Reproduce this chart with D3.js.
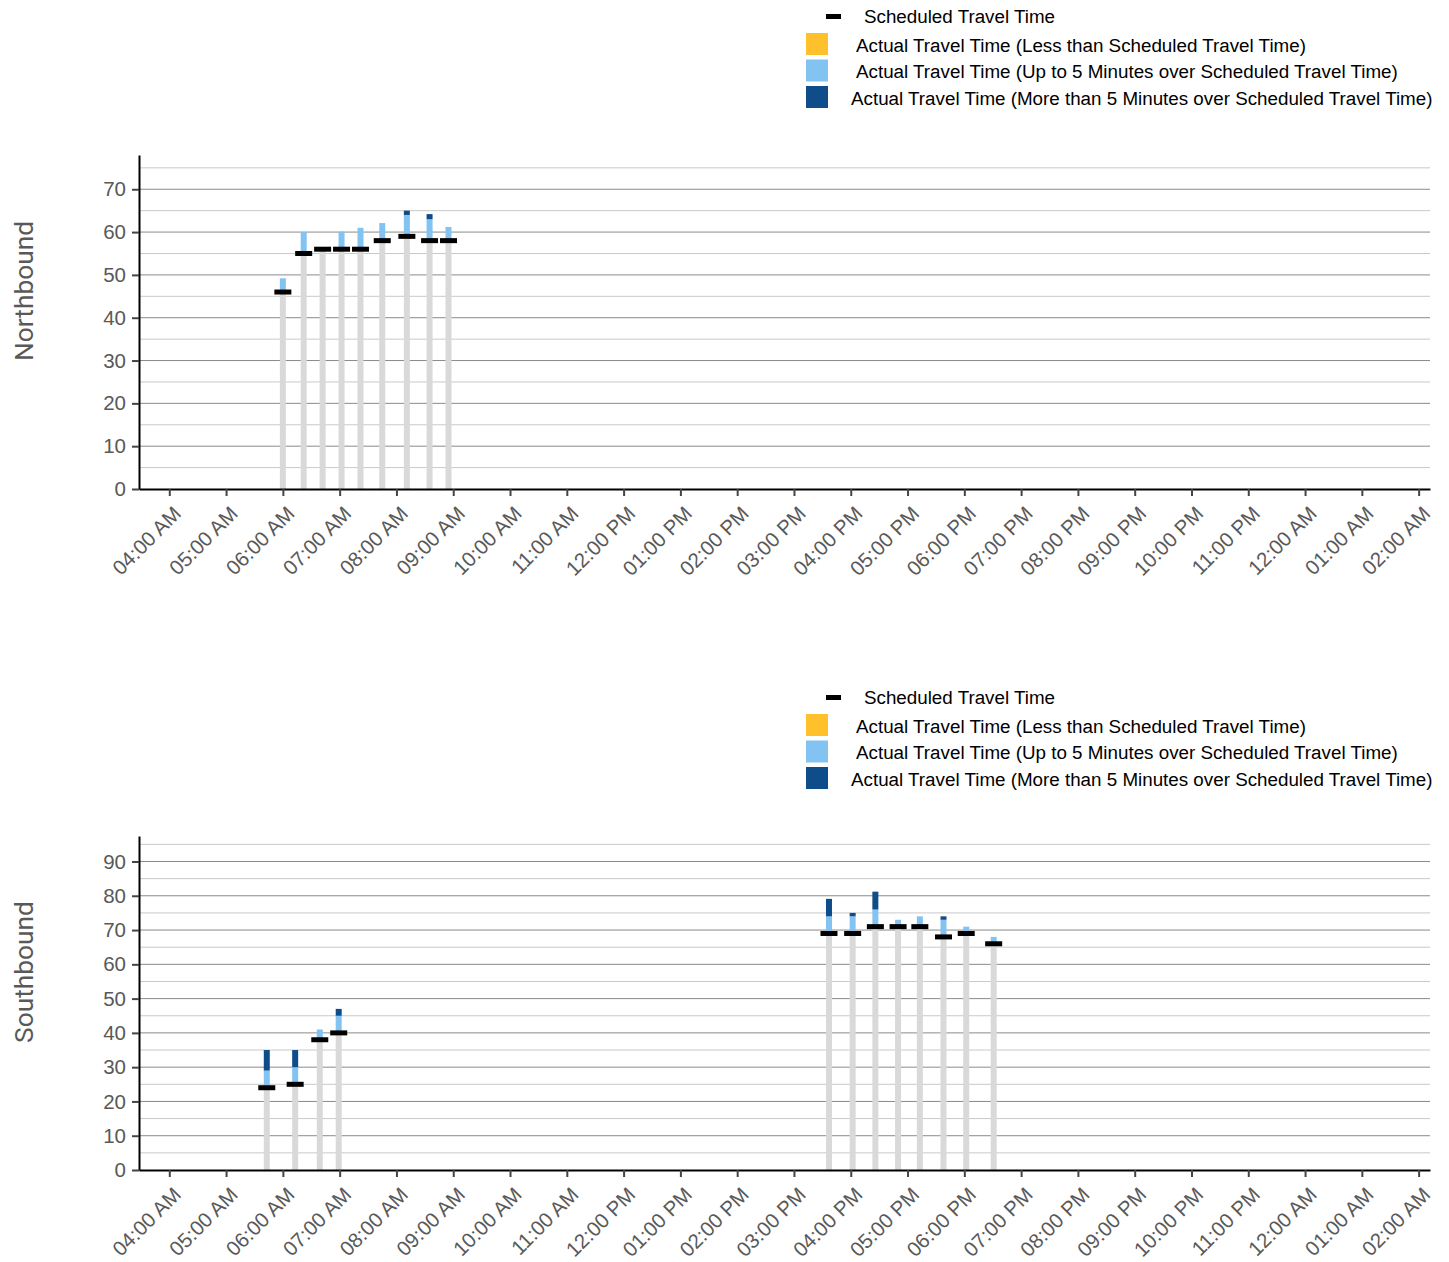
<!DOCTYPE html>
<html>
<head>
<meta charset="utf-8">
<script src="https://cdn.jsdelivr.net/npm/d3@7"></script>
<style>
  body { margin: 0; background: #fff; }
  svg { display: block; }
</style>
</head>
<body>
<svg width="1449" height="1262"></svg>
<script>
// ---------------- data ----------------
const nbTimes = ["06:00", "06:22", "06:42", "07:02", "07:22", "07:45", "08:11", "08:35", "08:55"];
const nbScheduled = [46, 55, 56, 56, 56, 58, 59, 58, 58];
const nbActual = [49.2, 60, 55.7, 60.1, 61, 62.1, 65, 64.2, 61.2];

const sbTimes = ["05:43", "06:13", "06:39", "06:59", "15:37", "16:02", "16:26", "16:50", "17:13", "17:38", "18:02", "18:31"];
const sbScheduled = [24, 25, 38, 40, 69, 69, 71, 71, 71, 68, 69, 66];
const sbActual = [35, 35, 41, 47, 79.1, 75, 81.2, 73, 74, 74, 71, 68];

const legendLabels = [
    "Scheduled Travel Time",
    "Actual Travel Time (Less than Scheduled Travel Time)",
    "Actual Travel Time (Up to 5 Minutes over Scheduled Travel Time)",
    "Actual Travel Time (More than 5 Minutes over Scheduled Travel Time)"
];

const colors = {
    gray: '#d9d9d9',
    less: '#ffc12b',
    up5: '#83c3f1',
    over5: '#0f4d8a',
    sched: '#000000'
};

const svg = d3.select('svg');
const parse = d3.timeParse('%H:%M');
const left = 139, right = 1430;
const font = 'Liberation Sans, Arial, sans-serif';

// time axis: 03:28 -> 02:12 next day
const xScale = d3.scaleTime()
    .domain([new Date(1900, 0, 1, 3, 28), new Date(1900, 0, 2, 2, 12)])
    .range([left, right]);

function drawLegend(g) {
    // scheduled marker
    g.append('rect').attr('x', 826).attr('y', 14).attr('width', 15).attr('height', 5).attr('fill', colors.sched);
    g.append('text').attr('x', 864).attr('y', 23).text(legendLabels[0]);

    const sw = [colors.less, colors.up5, colors.over5];
    const tx = [856, 856, 851];
    sw.forEach((c, i) => {
        g.append('rect').attr('x', 806).attr('y', 33 + i * 26.5).attr('width', 22).attr('height', 22).attr('fill', c);
        g.append('text').attr('x', tx[i]).attr('y', 51.5 + i * 26.5).text(legendLabels[i + 1]);
    });
    g.selectAll('text')
        .attr('font-family', font)
        .attr('font-size', 18.8)
        .attr('fill', '#000');
}

function drawPanel(offset, title, times, scheduled, actual) {
    const g = svg.append('g').attr('transform', `translate(0, ${offset})`);
    drawLegend(g);

    const top = 155, bottom = 489;
    const yScale = d3.scaleLinear()
        .domain([0, d3.max(actual) * 1.2])
        .range([bottom, top]);

    // grid lines every 5, darker on the 10s
    const grid = d3.range(5, yScale.domain()[1], 5);
    g.append('g').selectAll('line')
        .data(grid)
        .join('line')
        .attr('x1', left).attr('x2', right)
        .attr('y1', d => yScale(d)).attr('y2', d => yScale(d))
        .attr('stroke', d => d % 10 === 0 ? '#8a8a8a' : '#c9c9c9')
        .attr('stroke-width', 1);

    const data = times.map((t, i) => ({ t: parse(t), s: scheduled[i], a: actual[i] }));
    const bw = 6;
    const bars = g.append('g');

    data.forEach(d => {
        const x = xScale(d.t) - bw / 2;
        const seg = [];
        seg.push([0, Math.min(d.a, d.s), colors.gray]);
        if (d.a < d.s) seg.push([d.a, d.s, colors.less]);
        if (d.a > d.s) seg.push([d.s, Math.min(d.a, d.s + 5), colors.up5]);
        if (d.a > d.s + 5) seg.push([d.s + 5, d.a, colors.over5]);
        bars.selectAll(null)
            .data(seg)
            .enter().append('rect')
            .attr('x', x)
            .attr('width', bw)
            .attr('y', s => yScale(s[1]))
            .attr('height', s => yScale(s[0]) - yScale(s[1]))
            .attr('fill', s => s[2]);
    });

    // scheduled markers
    g.append('g').selectAll('rect')
        .data(data)
        .join('rect')
        .attr('x', d => xScale(d.t) - 8.5)
        .attr('y', d => yScale(d.s) - 2.5)
        .attr('width', 17)
        .attr('height', 5)
        .attr('fill', colors.sched);

    // y axis
    const yAxis = g.append('g')
        .attr('transform', `translate(${left}, 0)`)
        .call(d3.axisLeft(yScale).tickValues(d3.range(0, yScale.domain()[1], 10)).tickSize(7).tickPadding(6).tickSizeOuter(0));
    yAxis.select('.domain').attr('stroke', '#000').attr('stroke-width', 2);
    yAxis.selectAll('.tick line').attr('stroke', '#444').attr('stroke-width', 2);
    yAxis.selectAll('.tick text')
        .attr('font-family', font)
        .attr('font-size', 20.5)
        .attr('fill', '#595959');

    // x axis
    const xAxis = g.append('g')
        .attr('transform', `translate(0, ${bottom})`)
        .call(d3.axisBottom(xScale).ticks(d3.timeHour.every(1)).tickFormat(d3.timeFormat('%I:%M %p')).tickSize(7).tickSizeOuter(0));
    xAxis.select('.domain').attr('stroke', '#000').attr('stroke-width', 2);
    xAxis.selectAll('.tick line').attr('stroke', '#444').attr('stroke-width', 2);
    xAxis.selectAll('.tick text')
        .attr('font-family', font)
        .attr('font-size', 20.5)
        .attr('fill', '#595959')
        .attr('text-anchor', 'end')
        .attr('y', 0)
        .attr('dy', 0)
        .attr('transform', 'translate(12.5, 26) rotate(-45)');

    // y title
    g.append('text')
        .attr('transform', `translate(33, ${(top + bottom) / 2 - 31}) rotate(-90)`)
        .attr('text-anchor', 'middle')
        .attr('font-family', 'Roboto, Noto Sans, sans-serif')
        .attr('font-size', 26.3)
        .attr('fill', '#595959')
        .text(title);
}

drawPanel(0, 'Northbound', nbTimes, nbScheduled, nbActual);
drawPanel(681, 'Southbound', sbTimes, sbScheduled, sbActual);
</script>
</body>
</html>
